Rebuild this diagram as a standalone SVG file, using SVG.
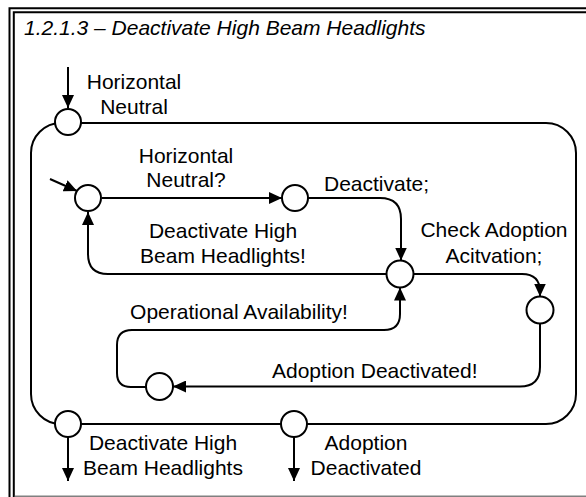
<svg xmlns="http://www.w3.org/2000/svg" width="586" height="497" viewBox="0 0 586 497">
<style>
  text { font-family: "Liberation Sans", Arial, sans-serif; font-size: 21px; fill: #000; }
  .title { font-style: italic; }
  .c { text-anchor: middle; }
  .frame { stroke: #000; stroke-width: 2; fill: none; }
  .line { stroke: #000; stroke-width: 2; fill: none; }
  .arrow { stroke: #000; stroke-width: 2; fill: none; marker-end: url(#ah); }
  .state { stroke: #000; stroke-width: 2; fill: #fff; }
</style>
<defs>
  <marker id="ah" markerUnits="userSpaceOnUse" markerWidth="13" markerHeight="12" refX="13" refY="6" orient="auto">
    <path d="M0,0 L13,6 L0,12 z" fill="#000"/>
  </marker>
</defs>
<rect width="586" height="497" fill="#fff"/>
<g id="frame">
  <path class="frame" d="M9.5,497 V8.3 H586"/>
  <path class="frame" d="M13.8,497 V12.3 H586"/>
  <line x1="14.8" y1="496.2" x2="586" y2="496.2" stroke="#808080" stroke-width="1.6"/>
  <text class="title" x="24" y="35">1.2.1.3 – Deactivate High Beam Headlights</text>
</g>
<g id="connectors">
  <rect class="line" x="31" y="123" width="545" height="301" rx="30" ry="30"/>
  <line class="arrow" x1="68" y1="67" x2="68" y2="108"/>
  <line class="arrow" x1="68" y1="437" x2="68" y2="481"/>
  <line class="arrow" x1="294" y1="437" x2="294" y2="481"/>
  <line class="arrow" x1="50" y1="179" x2="77" y2="191"/>
  <line class="arrow" x1="102" y1="198" x2="282" y2="198"/>
  <path class="arrow" d="M308,198 H380 Q401,198 401,219 V260.5"/>
  <path class="arrow" d="M386.5,274 H108 Q88,274 88,254 V212"/>
  <path class="arrow" d="M413.5,274 H522 Q540,274 540,292 V296.5"/>
  <path class="arrow" d="M146,387 H131 Q117,387 117,373 V345 Q117,330 132,330 H384 Q400,330 400,314 V287.5"/>
  <path class="arrow" d="M540,323.5 V367 Q540,386.5 520,386.5 H173"/>
</g>
<g id="n-entry"><circle class="state" cx="68" cy="122" r="13"/></g>
<g id="n-exit1"><circle class="state" cx="68" cy="424" r="13"/></g>
<g id="n-exit2"><circle class="state" cx="294" cy="424" r="13"/></g>
<g id="n-init"><circle class="state" cx="88" cy="198" r="13"/></g>
<g id="n-s2"><circle class="state" cx="295" cy="198" r="13"/></g>
<g id="n-center"><circle class="state" cx="400" cy="274" r="13.5"/></g>
<g id="n-right"><circle class="state" cx="540" cy="310" r="13.5"/></g>
<g id="n-lower"><circle class="state" cx="159.5" cy="386.5" r="13.5"/></g>
<g id="labels">
  <text class="c" x="134" y="89">Horizontal</text>
  <text class="c" x="134" y="114">Neutral</text>
  <text class="c" x="186" y="163">Horizontal</text>
  <text class="c" x="186" y="187">Neutral?</text>
  <text x="324" y="191">Deactivate;</text>
  <text class="c" x="223" y="238">Deactivate High</text>
  <text class="c" x="223" y="263">Beam Headlights!</text>
  <text class="c" x="494" y="237">Check Adoption</text>
  <text class="c" x="494" y="263">Acitvation;</text>
  <text class="c" x="239" y="319">Operational Availability!</text>
  <text x="272" y="378">Adoption Deactivated!</text>
  <text class="c" x="163" y="450">Deactivate High</text>
  <text class="c" x="163" y="475">Beam Headlights</text>
  <text class="c" x="366" y="450">Adoption</text>
  <text class="c" x="366" y="475">Deactivated</text>
</g>
</svg>
